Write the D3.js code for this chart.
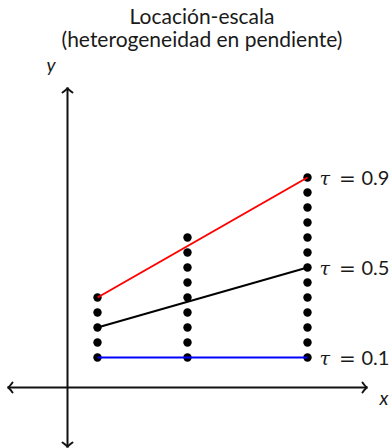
<!DOCTYPE html>
<html>
<head>
<meta charset="utf-8">
<script src="https://cdn.jsdelivr.net/npm/d3@7"></script>
<style>
  html, body { margin: 0; padding: 0; background: #fff; }
  svg { display: block; }
</style>
</head>
<body>
<svg id="chart" width="391" height="448"></svg>
<script>
// Observed y values stacked at each x position
const columnX = [1, 4, 8];
const columnTop = [3, 5, 7];   // dots run from y = 1 upward in steps of 0.5
const dotStep = 0.5;
const dotBase = 1;

// Quantile lines: value at first and last column
const quantiles = ["0.1", "0.5", "0.9"];
const lineStart = [1, 2, 3];
const lineEnd = [1, 4, 7];
const lineColors = ["#0000ff", "#000000", "#ff0000"];

const titleLines = ["Locación-escala", "(heterogeneidad en pendiente)"];

const svg = d3.select("#chart");
const x = d3.scaleLinear().domain([-2, 10]).range([7.5, 367.5]);
const y = d3.scaleLinear().domain([-2, 10]).range([447.5, 87.5]);
const sans = "Lato, 'Open Sans', sans-serif";
const ink = "#1a1a1a";

// Title
svg.append("g").selectAll("text").data(titleLines).join("text")
  .attr("x", 202).attr("y", (d, i) => 23.5 + i * 23.3)
  .attr("text-anchor", "middle")
  .style("font-family", sans)
  .style("font-size", "21px")
  .attr("fill", ink)
  .text(d => d);

// Axes with open arrowheads at both ends
const axis = svg.append("g").attr("stroke", "#111").attr("stroke-width", 2).attr("fill", "none");
axis.append("line").attr("x1", x(-2)).attr("x2", x(10)).attr("y1", y(0)).attr("y2", y(0));
axis.append("line").attr("x1", x(0)).attr("x2", x(0)).attr("y1", y(-2)).attr("y2", y(10));
const head = 5;
function chevron(px, py, dx, dy) {
  // dx,dy: unit direction the arrow points
  const bx = px - dx * head, by = py - dy * head;
  const nx = -dy * head, ny = dx * head;
  return `M${bx + nx},${by + ny} Q${px - dx * 1.5},${py - dy * 1.5} ${px},${py} Q${px - dx * 1.5},${py - dy * 1.5} ${bx - nx},${by - ny}`;
}
axis.append("path").attr("d", chevron(x(-2), y(0), -1, 0)).attr("stroke-linecap", "round");
axis.append("path").attr("d", chevron(x(10), y(0), 1, 0)).attr("stroke-linecap", "round");
axis.append("path").attr("d", chevron(x(0), y(10), 0, -1)).attr("stroke-linecap", "round");
axis.append("path").attr("d", chevron(x(0), y(-2), 0, 1)).attr("stroke-linecap", "round");

svg.append("text").attr("x", x(10) + 12).attr("y", y(0) + 17)
  .style("font-family", sans).style("font-style", "italic")
  .style("font-size", "19px").attr("fill", ink).text("x");
svg.append("text").attr("x", x(0) - 21).attr("y", y(10) - 16)
  .style("font-family", sans).style("font-style", "italic")
  .style("font-size", "19px").attr("fill", ink).text("y");

// Dots
const dots = [];
columnX.forEach((cx, i) => {
  d3.range(dotBase, columnTop[i] + dotStep / 2, dotStep).forEach(v => dots.push({ x: cx, y: v }));
});
svg.append("g").selectAll("circle").data(dots).join("circle")
  .attr("cx", d => x(d.x)).attr("cy", d => y(d.y)).attr("r", 4.2).attr("fill", "#000");

// Quantile lines
const first = columnX[0], last = columnX[columnX.length - 1];
svg.append("g").selectAll("line").data(quantiles).join("line")
  .attr("x1", x(first)).attr("x2", x(last))
  .attr("y1", (d, i) => y(lineStart[i])).attr("y2", (d, i) => y(lineEnd[i]))
  .attr("stroke", (d, i) => lineColors[i]).attr("stroke-width", 2);

// Quantile labels: italic tau, equals sign, value
const lab = svg.append("g").selectAll("g").data(quantiles).join("g")
  .attr("transform", (d, i) => `translate(${x(last) + 12},${y(lineEnd[i]) + 7.5})`)
  .attr("fill", ink).style("font-size", "20px");
lab.append("text").style("font-family", "'DejaVu Serif', serif").style("font-style", "italic")
  .style("font-size", "19px").text("τ");
lab.append("text").attr("x", 19.5).style("font-family", "'DejaVu Sans', sans-serif").text("=");
lab.append("text").attr("x", 42).style("font-family", sans).text(d => d);
</script>
</body>
</html>
